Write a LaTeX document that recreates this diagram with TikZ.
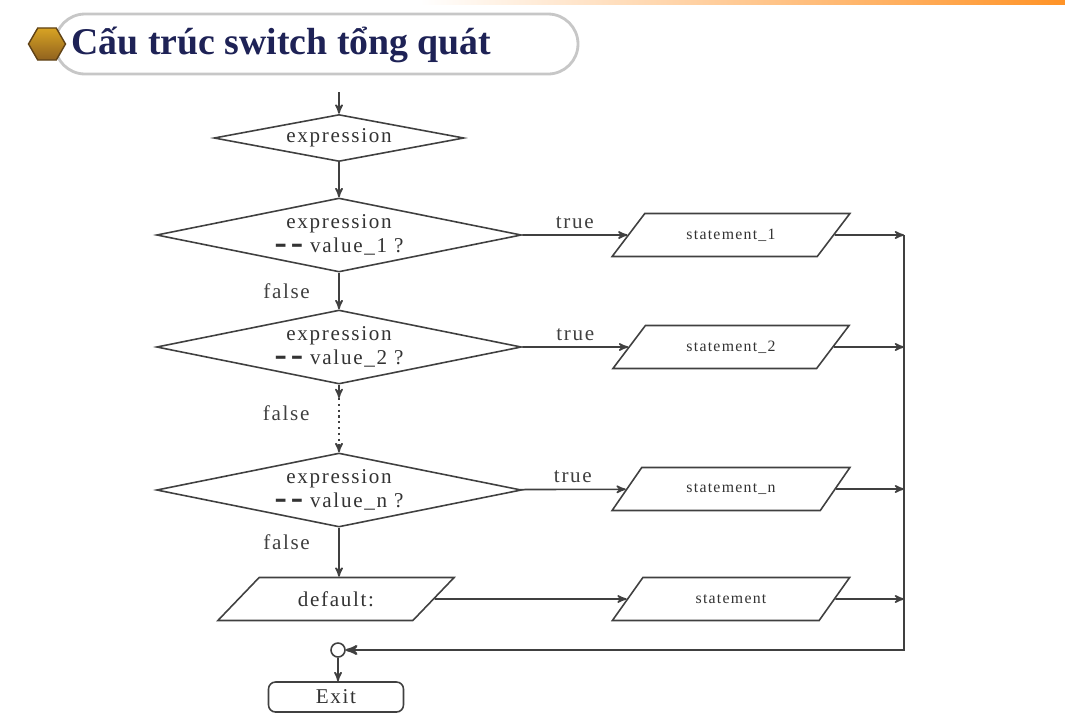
\documentclass[tikz,border=0pt]{standalone}
\usepackage{fontspec}
\setmainfont{Liberation Serif}
\newfontfamily\flowfont{Liberation Serif}[LetterSpace=8]
\newfontfamily\barfont{DejaVu Sans}
\usetikzlibrary{arrows,shapes.geometric,positioning}

\definecolor{titleblue}{RGB}{30,34,86}
\definecolor{hexgold}{RGB}{206,140,44}
\definecolor{hexedge}{RGB}{96,66,22}

\newcommand{\eqeq}{{\barfont\bfseries\fontsize{14}{14}\selectfont –\,–}}

\begin{document}
\begin{tikzpicture}[x=0.02cm,y=-0.02cm,->,>=stealth',line width=0.9pt,
                    color=black!75,font=\flowfont\fontsize{12}{14}\selectfont]
  \tikzstyle{test}=[diamond,draw,inner sep=0pt,align=center,text=black!80,aspect=4.9,
                    minimum width=7.3cm,minimum height=1.48cm]
  \tikzstyle{io}=[trapezium,trapezium left angle=36.5,trapezium right angle=143.5,
                  trapezium stretches=true,draw,inner sep=0pt,text=black!80,
                  minimum width=4.76cm,minimum height=0.86cm]
  \tikzstyle{stmt}=[io,font=\flowfont\fontsize{9}{11}\selectfont]
  \useasboundingbox (0,0) rectangle (1065,718);

  % title bar
  \shade[left color=white,right color=orange!85] (420,0) rectangle (1065,4);
  \draw[-,draw=black!22,line width=1.6pt,rounded corners=0.6cm,fill=white]
       (55,14) rectangle (578,74);
  \node[regular polygon,regular polygon sides=6,minimum size=0.74cm,inner sep=0pt,
        draw=hexedge,line width=0.8pt,top color=hexgold!80!yellow,bottom color=hexgold!70!black]
        (H) at (47,44) {};
  \node[anchor=west,text=titleblue,font=\bfseries\fontsize{21.5}{24}\selectfont]
        (T) at (65,45) {Cấu trúc switch tổng quát};

  % tests
  \node[test,aspect=5,minimum width=5cm,minimum height=0.94cm] (D0) at (339,138) {expression};
  \node[test] (D1) at (339,235) {expression\\\eqeq{} value\_1 ?};
  \node[test] (D2) at (339,347) {expression\\\eqeq{} value\_2 ?};
  \node[test] (Dn) at (339,490) {expression\\\eqeq{} value\_n ?};
  \node[io]   (Df) at (336,599) {default:};

  % statements
  \node[stmt] (S1) at (731,235) {statement\_1};
  \node[stmt] (S2) at (731,347) {statement\_2};
  \node[stmt] (Sn) at (731,489) {statement\_n};
  \node[stmt] (Sd) at (731,599) {statement};

  \node[circle,draw,inner sep=0pt,minimum size=0.28cm] (J) at (338,650) {};
  \node[draw,rounded corners=4pt,minimum width=2.7cm,minimum height=0.6cm,text=black!80]
        (X) at (336,697) {Exit};

  \coordinate (in) at (339,92);
  \coordinate (c1) at (339,398);
  \coordinate (c2) at (339,447);
  \coordinate (B)  at (904,235);

  \path (in) edge (D0)
        (D0) edge (D1)
        (D1) edge node[left=0.45cm] {false} (D2)
        (D2) edge (c1)
        (c1) edge[-,dotted,line width=1.3pt] node[pos=0.3,left=0.45cm] {false} (c2)
        (c2) edge (Dn)
        (Dn) edge node[pos=0.3,left=0.45cm] {false} (Dn |- Df.north);

  \path (D1) edge node[above] {true} (S1)
        (D2) edge node[above] {true} (S2)
        (Dn) edge node[above] {true} (Sn)
        (Df) edge (Sd);

  \path (S1) edge (S1 -| B)
        (S2) edge (S2 -| B)
        (Sn) edge (Sn -| B)
        (Sd) edge (Sd -| B);

  \draw[line width=1.3pt] (B) |- (J);
  \draw (J) -- (J |- X.north);
\end{tikzpicture}
\end{document}
